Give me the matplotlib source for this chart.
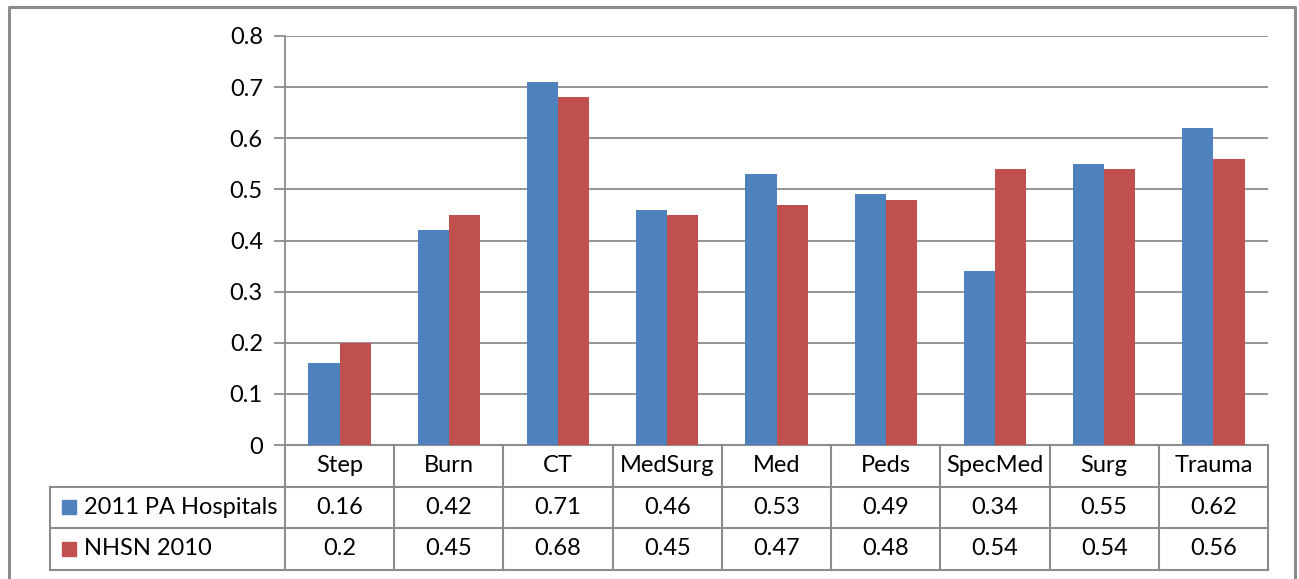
import matplotlib.pyplot as plt
from matplotlib.patches import Rectangle
from matplotlib.transforms import blended_transform_factory
import numpy as np

plt.rcParams['font.family'] = ['Lato', 'DejaVu Sans']

categories = ["Step", "Burn", "CT", "MedSurg", "Med", "Peds", "SpecMed", "Surg", "Trauma"]
pa_2011 = [0.16, 0.42, 0.71, 0.46, 0.53, 0.49, 0.34, 0.55, 0.62]
nhsn_2010 = [0.2, 0.45, 0.68, 0.45, 0.47, 0.48, 0.54, 0.54, 0.56]
pa_labels = ["0.16", "0.42", "0.71", "0.46", "0.53", "0.49", "0.34", "0.55", "0.62"]
nhsn_labels = ["0.2", "0.45", "0.68", "0.45", "0.47", "0.48", "0.54", "0.54", "0.56"]
series = [("2011 PA Hospitals", pa_labels, "#4F81BD"), ("NHSN 2010", nhsn_labels, "#C0504D")]

W, H = 1299, 579
fig = plt.figure(figsize=(W / 100, H / 100), dpi=100)
ax = fig.add_axes([285 / W, (H - 445) / H, 983 / W, 409 / H])

grey = "#8C8C8C"
fs = 17
x = np.arange(len(categories))
bw = 0.285
ax.bar(x - bw / 2, pa_2011, bw, color="#4F81BD", zorder=3)
ax.bar(x + bw / 2, nhsn_2010, bw, color="#C0504D", zorder=3)

ax.set_xlim(-0.5, len(categories) - 0.5)
ax.set_ylim(0, 0.8)
ax.set_yticks(np.arange(0, 0.81, 0.1))
ax.set_yticklabels(["0"] + ["%.1f" % v for v in np.arange(0.1, 0.81, 0.1)], fontsize=fs)
ax.tick_params(axis="y", length=8, color=grey, width=1.3, pad=8)
ax.set_xticks([])
ax.grid(axis="y", color=grey, lw=1.3, zorder=0)
for s in ["top", "right"]:
    ax.spines[s].set_visible(False)
ax.spines["left"].set_color(grey)
ax.spines["left"].set_linewidth(1.3)
ax.spines["bottom"].set_color(grey)
ax.spines["bottom"].set_linewidth(1.3)

# data table below the plot
tr = blended_transform_factory(ax.transData, ax.transAxes)
n = len(categories)
px_x = (983 / n)          # pixels per category
row_h = 41.5 / 409
lx = -0.5 - 235 / px_x    # legend column left edge in data units
kw = dict(transform=tr, clip_on=False, color=grey, lw=1.5)
ax.plot([-0.5, n - 0.5], [0, 0], **kw)
for r in range(1, 4):
    ax.plot([lx, n - 0.5], [-r * row_h] * 2, **kw)
for i in range(n + 1):
    ax.plot([i - 0.5, i - 0.5], [0, -3 * row_h], **kw)
ax.plot([lx, lx], [-row_h, -3 * row_h], **kw)

for i, c in enumerate(categories):
    ax.text(i, -0.5 * row_h, c, transform=tr, ha="center", va="center", fontsize=fs)
for r, (name, labels, col) in enumerate(series):
    yc = -(r + 1.5) * row_h
    for i, lab in enumerate(labels):
        ax.text(i, yc, lab, transform=tr, ha="center", va="center", fontsize=fs)
    sq = 14
    ax.add_patch(Rectangle((lx + 12 / px_x, yc - sq / 2 / 409), sq / px_x, sq / 409,
                           transform=tr, color=col, clip_on=False))
    ax.text(lx + 34 / px_x, yc, name, transform=tr, ha="left", va="center", fontsize=fs)

# outer chart frame (bottom edge falls outside the image)
fig.add_artist(plt.Line2D([8.5 / W, 8.5 / W, 1294.5 / W, 1294.5 / W],
                          [0, (H - 7) / H, (H - 7) / H, 0],
                          transform=fig.transFigure, color="#8C8C8C", lw=2.2))

fig.savefig("out.png", dpi=100)
